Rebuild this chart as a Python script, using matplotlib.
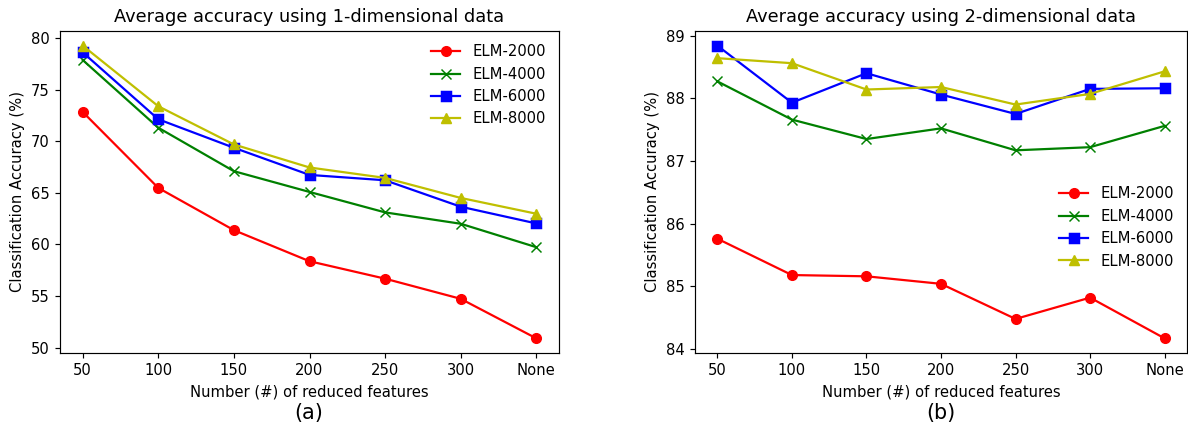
"""
Average accuracy of ELM models vs number of reduced features.
"""
import matplotlib
matplotlib.use('Agg')
import matplotlib.pyplot as plt
import numpy as np

feature_labels = ['50', '100', '150', '200', '250', '300', 'None']
series_names = ['ELM-2000', 'ELM-4000', 'ELM-6000', 'ELM-8000']

# 1-dimensional data
acc_1d_2000 = [72.83, 65.47, 61.38, 58.37, 56.68, 54.73, 50.90]
acc_1d_4000 = [77.86, 71.30, 67.09, 65.08, 63.10, 62.00, 59.73]
acc_1d_6000 = [78.60, 72.12, 69.36, 66.73, 66.21, 63.65, 62.03]
acc_1d_8000 = [79.25, 73.38, 69.68, 67.45, 66.44, 64.50, 62.97]

# 2-dimensional data
acc_2d_2000 = [85.76, 85.18, 85.16, 85.04, 84.48, 84.82, 84.17]
acc_2d_4000 = [88.27, 87.66, 87.35, 87.52, 87.17, 87.22, 87.56]
acc_2d_6000 = [88.84, 87.93, 88.40, 88.06, 87.75, 88.15, 88.16]
acc_2d_8000 = [88.64, 88.56, 88.14, 88.18, 87.90, 88.07, 88.43]

styles = [('r', 'o'), ('g', 'x'), ('b', 's'), ('y', '^')]

W, H = 1188, 426
DPI = 106.5
fig = plt.figure(figsize=(W / DPI, H / DPI), dpi=DPI)


def px_axes(left, top, right, bottom):
    return fig.add_axes([left / W, 1 - bottom / H, (right - left) / W, (bottom - top) / H])


def draw_panel(ax, data, title, legend_kw):
    x = np.arange(len(feature_labels))
    for vals, name, (c, m) in zip(data, series_names, styles):
        ax.plot(x, vals, color=c, marker=m, lw=1.5, ms=6.5, label=name)
    ax.set_xticks(x)
    ax.set_xticklabels(feature_labels)
    ax.set_title(title, fontsize=12)
    ax.set_xlabel('Number (#) of reduced features', fontsize=10)
    ax.set_ylabel('Classification Accuracy (%)', fontsize=10)
    ax.tick_params(labelsize=10)
    ax.legend(frameon=False, fontsize=10, **legend_kw)


ax1 = px_axes(60, 31, 559, 353)
draw_panel(ax1, [acc_1d_2000, acc_1d_4000, acc_1d_6000, acc_1d_8000],
           'Average accuracy using 1-dimensional data', dict(loc='upper right'))

ax2 = px_axes(695, 31, 1187, 353)
draw_panel(ax2, [acc_2d_2000, acc_2d_4000, acc_2d_6000, acc_2d_8000],
           'Average accuracy using 2-dimensional data',
           dict(loc='center right', bbox_to_anchor=(1.0, 0.39)))

fig.text(309 / W, 1 - 413 / H, '(a)', ha='center', va='center', fontsize=14)
fig.text(941 / W, 1 - 413 / H, '(b)', ha='center', va='center', fontsize=14)

fig.savefig('out.png', dpi=DPI)
plt.close(fig)
